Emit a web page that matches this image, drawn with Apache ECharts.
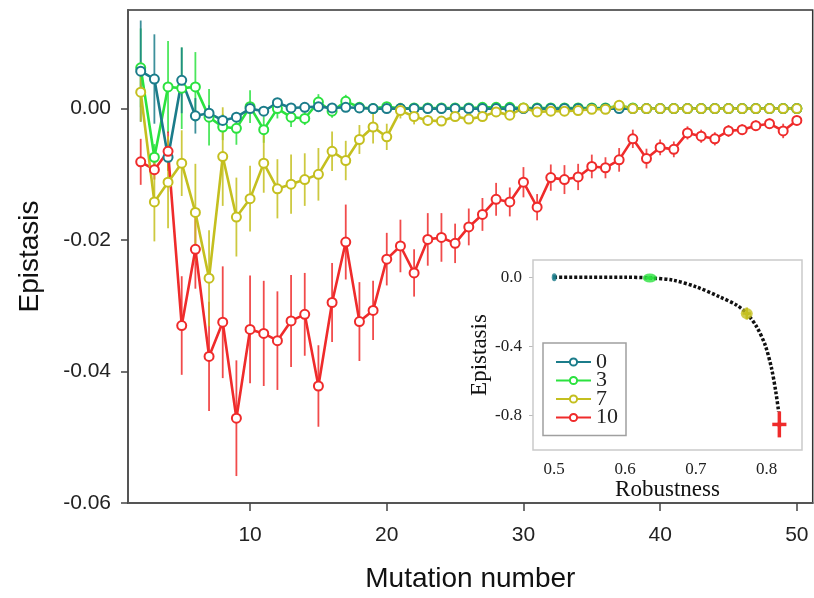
<!DOCTYPE html>
<html>
<head>
    <meta charset="utf-8">
    <title>Epistasis vs mutation number</title>
    <script src="https://cdn.jsdelivr.net/npm/echarts@6/dist/echarts.min.js"></script>
    <style>
        html, body { margin: 0; padding: 0; background: #fff; }
        #main { width: 814px; height: 598px; }
    </style>
</head>
<body>
    <div id="main"></div>
    <script>
    // mutation number (x)
    var mutation = [2,3,4,5,6,7,8,9,10,11,12,13,14,15,16,17,18,19,20,21,22,23,24,25,26,
        27,28,29,30,31,32,33,34,35,36,37,38,39,40,41,42,43,44,45,46,47,48,49,50];

    // series "0"
    var epi0 = [0.0057,0.0045,-0.0074,0.0043,-0.0011,-0.0007,-0.0018,-0.0013,0.0000,-0.0004,0.0009,0.0001,0.0002,0.0003,0.0001,0.0002,0.0001,0.0000,0.0000,0.0000,0.0000,
        0,0,0,0,0,0,0,0,0,0,0,0,0,0,0,0,0,0,0,0,0,0,0,0,0,0,0,0];
    var err0 = [0.0077,0.0068,0.002,0.005,0.0027,0.0012,0.0008,0.0006,0.0005,0.0004,0.0004,0.0003,0.0003,0.0003,0.0002,0.0002,0.0002,0.0002,0.0002,0.0001,0.0001,
        0.0001,0.0001,0.0001,0.0001,0.0001,0.0001,0.0001,0.0001,0.0001,0.0001,0.0001,0.0001,0.0001,0.0001,0.0001,0.0001,0.0001,0.0001,0.0001,0.0001,0.0001,0.0001,0.0001,0.0001,0.0001,0.0001,0.0001,0.0001];

    // series "3"
    var epi3 = [0.0062,-0.0074,0.0033,0.0031,0.0033,-0.0013,-0.0028,-0.003,0.0003,-0.0032,0.0000,-0.0013,-0.0015,0.0010,-0.0004,0.0011,0.0002,0.0000,0.0003,0.0000,0.0001,
        0.0001,0.0001,0.0001,0.0001,0.0002,0.0002,0.0002,0.0001,0.0001,0.0001,0.0001,0.0001,0.0001,0.0001,0.0004,0.0001,0,0,0,0,0,0,0,0,0,0,0,0];
    var err3 = [0.006,0.002,0.007,0.0062,0.0053,0.0043,0.002,0.0025,0.0025,0.002,0.0015,0.0015,0.001,0.0012,0.001,0.001,0.0007,0.0006,0.0005,0.0004,0.0003,
        0.0003,0.0003,0.0003,0.0003,0.0003,0.0002,0.0002,0.0002,0.0002,0.0002,0.0002,0.0002,0.0002,0.0002,0.0002,0.0002,0.0002,0.0002,0.0002,0.0002,0.0002,0.0002,0.0002,0.0002,0.0002,0.0002,0.0002,0.0002];

    // series "7"
    var epi7 = [0.0025,-0.0142,-0.0112,-0.0083,-0.0158,-0.0258,-0.0073,-0.0165,-0.0137,-0.0083,-0.0122,-0.0115,-0.0108,-0.0100,-0.0065,-0.0079,-0.0047,-0.0028,-0.0043,-0.0003,-0.0012,
        -0.0018,-0.0019,-0.0012,-0.0016,-0.0012,-0.0005,-0.0010,0.0001,-0.0005,-0.0004,-0.0004,-0.0003,-0.0001,-0.0001,0.0005,0.0000,0,0,0,0,0,0,0,0,0,0,0,0];
    var err7 = [0.0045,0.006,0.007,0.005,0.0074,0.0073,0.0075,0.006,0.005,0.0045,0.0045,0.0045,0.004,0.004,0.003,0.003,0.0022,0.0025,0.002,0.0012,0.0012,
        0.0008,0.0006,0.0006,0.0005,0.0005,0.0003,0.0003,0.0003,0.0003,0.0003,0.0003,0.0003,0.0003,0.0003,0.0003,0.0003,0.0002,0.0002,0.0002,0.0002,0.0002,0.0002,0.0002,0.0002,0.0002,0.0002,0.0002,0.0002];

    // series "10"
    var epi10 = [-0.0081,-0.0093,-0.0065,-0.0330,-0.0214,-0.0377,-0.0325,-0.0471,-0.0336,-0.0342,-0.0353,-0.0323,-0.0313,-0.0422,-0.0295,-0.0203,-0.0324,-0.0307,-0.0229,-0.0209,-0.0250,
        -0.0199,-0.0196,-0.0205,-0.0180,-0.0161,-0.0138,-0.0142,-0.0112,-0.0150,-0.0105,-0.0108,-0.0104,-0.0088,-0.0090,-0.0078,-0.0046,-0.0076,-0.0059,-0.0062,-0.0037,-0.0042,-0.0046,-0.0034,-0.0032,-0.0026,-0.0023,-0.0034,-0.0018];
    var err10 = [0.0035,0.0015,0.003,0.0075,0.006,0.0083,0.0085,0.0088,0.0082,0.008,0.0075,0.007,0.0063,0.0062,0.006,0.0057,0.006,0.0045,0.004,0.004,0.0036,
        0.004,0.0037,0.003,0.0028,0.0025,0.0025,0.0022,0.0023,0.002,0.002,0.0022,0.002,0.0018,0.0016,0.0018,0.0014,0.0015,0.0012,0.0012,0.001,0.001,0.001,0.0009,0.0008,0.0008,0.0008,0.0011,0.0006];

    var yTicks = [0, -0.02, -0.04, -0.06];
    var xTicks = [10, 20, 30, 40, 50];

    // inset: robustness vs epistasis
    var curveRob = [0.5, 0.55, 0.6, 0.635, 0.668, 0.701, 0.734, 0.758, 0.772, 0.786, 0.798, 0.807, 0.813, 0.817];
    var curveEpi = [0, 0, 0, -0.004, -0.017, -0.056, -0.114, -0.162, -0.21, -0.287, -0.393, -0.528, -0.663, -0.779];
    var insetRob = [0.5, 0.635, 0.772, 0.818];
    var insetEpi = [0, -0.004, -0.21, -0.852];
    var insetRobErr = [0.001, 0.006, 0.006, 0.01];
    var insetEpiErr = [0.012, 0.012, 0.035, 0.075];
    var insetXTicks = [0.5, 0.6, 0.7, 0.8];
    var insetYTicks = [0, -0.4, -0.8];

    var names = ['0', '3', '7', '10'];
    var colors = ['#1b7c8a', '#2be23f', '#c4bf1f', '#ef2b2b'];
    var values = [epi0, epi3, epi7, epi10];
    var errors = [err0, err3, err7, err10];

    var chart = echarts.init(document.getElementById('main'));

    var series = [];
    // error bars first (below the lines)
    [1, 0, 3, 2].forEach(function (k) {
        series.push({
            type: 'custom',
            name: 'err' + names[k],
            xAxisIndex: 0,
            yAxisIndex: 0,
            z: 1,
            silent: true,
            data: mutation.map(function (m, i) {
                return [m, values[k][i] - errors[k][i], values[k][i] + errors[k][i]];
            }),
            renderItem: function (params, api) {
                var p1 = api.coord([api.value(0), api.value(1)]);
                var p2 = api.coord([api.value(0), api.value(2)]);
                return {
                    type: 'line',
                    shape: { x1: p1[0], y1: p1[1], x2: p2[0], y2: p2[1] },
                    style: { stroke: colors[k], lineWidth: 1.8, opacity: 0.85 }
                };
            }
        });
    });
    [1, 0, 3, 2].forEach(function (k) {
        series.push({
            type: 'line',
            name: names[k],
            xAxisIndex: 0,
            yAxisIndex: 0,
            z: 3,
            color: colors[k],
            symbol: 'emptyCircle',
            symbolSize: 9,
            itemStyle: { borderWidth: 1.7 },
            lineStyle: { width: 2.6 },
            data: mutation.map(function (m, i) { return [m, values[k][i]]; })
        });
    });

    // inset curve
    series.push({
        type: 'line',
        name: 'curve',
        xAxisIndex: 1,
        yAxisIndex: 1,
        z: 4,
        symbol: 'none',
        smooth: 0.3,
        color: '#111',
        lineStyle: { width: 3.5, type: [3, 2], color: '#111' },
        data: curveRob.map(function (r, i) { return [r, curveEpi[i]]; })
    });
    // inset error crosses
    series.push({
        type: 'custom',
        name: 'insetErr',
        xAxisIndex: 1,
        yAxisIndex: 1,
        z: 5,
        silent: true,
        data: insetRob.map(function (r, i) { return [r, insetEpi[i], insetRobErr[i], insetEpiErr[i], i]; }),
        renderItem: function (params, api) {
            var x = api.value(0), y = api.value(1), ex = api.value(2), ey = api.value(3);
            var c = colors[api.value(4)];
            var a = api.coord([x, y - ey]), b = api.coord([x, y + ey]);
            var l = api.coord([x - ex, y]), r = api.coord([x + ex, y]);
            var w = api.value(4) === 3 ? 3.5 : 2.5;
            return {
                type: 'group',
                children: [
                    { type: 'line', shape: { x1: a[0], y1: a[1], x2: b[0], y2: b[1] }, style: { stroke: c, lineWidth: w } },
                    { type: 'line', shape: { x1: l[0], y1: l[1], x2: r[0], y2: r[1] }, style: { stroke: c, lineWidth: w } }
                ]
            };
        }
    });
    series.push({
        type: 'scatter',
        name: 'insetPts',
        xAxisIndex: 1,
        yAxisIndex: 1,
        z: 6,
        silent: true,
        data: insetRob.map(function (r, i) {
            var size = [[5, 8], [14, 9], [12, 11], [5, 5]][i];
            return { value: [r, insetEpi[i]], symbolSize: size, itemStyle: { color: colors[i] } };
        })
    });

    var option = {
        animation: false,
        backgroundColor: '#fff',
        textStyle: { fontFamily: 'Liberation Sans, Arial, sans-serif' },
        legend: {
            data: names,
            orient: 'vertical',
            left: 543,
            top: 343,
            padding: [8, 8, 7, 12],
            itemGap: -3.5,
            itemWidth: 35,
            itemHeight: 9,
            backgroundColor: '#fff',
            borderColor: '#a0a0a0',
            borderWidth: 1.5,
            selectedMode: false,
            z: 10,
            textStyle: { fontFamily: 'Liberation Serif, Times New Roman, serif', fontSize: 22, color: '#222', padding: [0, 0, 0, 0] }
        },
        grid: [{
            left: 128, top: 10, right: 1.3, bottom: 94,
            show: true, borderColor: '#333', borderWidth: 1.5, backgroundColor: 'transparent'
        }, {
            left: 533, top: 260, width: 269, height: 190,
            show: true, borderColor: '#cacaca', borderWidth: 1.5, backgroundColor: '#fff', z: 2
        }],
        xAxis: [{
            type: 'value',
            gridIndex: 0,
            min: 1.07,
            max: 51.16,
            splitLine: { show: false },
            axisLine: { show: true, onZero: false, lineStyle: { color: '#555', width: 2 } },
            axisTick: { show: true, length: 8, customValues: xTicks, lineStyle: { color: '#444', width: 1.5 } },
            axisLabel: { customValues: xTicks, margin: 22, fontSize: 21, color: '#222' },
            name: 'Mutation number',
            nameLocation: 'middle',
            nameGap: 62,
            nameTextStyle: { fontSize: 28, color: '#111' }
        }, {
            type: 'value',
            gridIndex: 1,
            min: 0.47,
            max: 0.85,
            splitLine: { show: false },
            axisLine: { show: false },
            axisTick: { show: true, length: 4, customValues: insetXTicks, lineStyle: { color: '#bbb' } },
            axisLabel: {
                customValues: insetXTicks, margin: 11, fontSize: 17, color: '#222',
                fontFamily: 'Liberation Serif, Times New Roman, serif',
                formatter: function (v) { return v.toFixed(1); }
            },
            name: 'Robustness',
            nameLocation: 'middle',
            nameGap: 28,
            nameTextStyle: { fontSize: 23, color: '#111', fontFamily: 'Liberation Serif, Times New Roman, serif' }
        }],
        yAxis: [{
            type: 'value',
            gridIndex: 0,
            min: -0.06,
            max: 0.015,
            splitLine: { show: false },
            axisLine: { show: true, onZero: false, lineStyle: { color: '#555', width: 2 } },
            axisTick: { show: true, length: 7, customValues: yTicks, lineStyle: { color: '#444', width: 1.5 } },
            axisLabel: {
                customValues: yTicks, margin: 17, fontSize: 21, color: '#222',
                formatter: function (v) { return v.toFixed(2); }
            },
            name: 'Epistasis',
            nameLocation: 'middle',
            nameGap: 84,
            nameTextStyle: { fontSize: 28, color: '#111' }
        }, {
            type: 'value',
            gridIndex: 1,
            min: -1.0,
            max: 0.1,
            splitLine: { show: false },
            axisLine: { show: false },
            axisTick: { show: true, length: 4, customValues: insetYTicks, lineStyle: { color: '#bbb' } },
            axisLabel: {
                customValues: insetYTicks, margin: 11, fontSize: 17, color: '#222',
                fontFamily: 'Liberation Serif, Times New Roman, serif',
                formatter: function (v) { return v.toFixed(1); }
            },
            name: 'Epistasis',
            nameLocation: 'middle',
            nameGap: 36,
            nameTextStyle: { fontSize: 23, color: '#111', fontFamily: 'Liberation Serif, Times New Roman, serif' }
        }],
        series: series
    };

    chart.setOption(option);
    </script>
</body>
</html>
